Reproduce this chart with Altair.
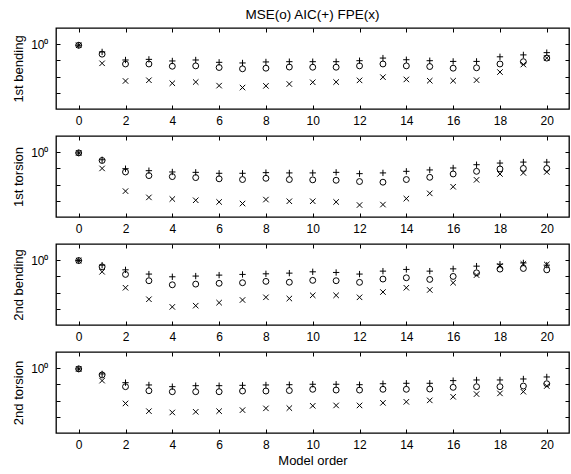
import altair as alt
import pandas as pd

# Model orders on the horizontal axis
orders = list(range(21))

panel_names = ["1st bending", "1st torsion", "2nd bending", "2nd torsion"]

# Normalised criteria per mode: MSE (o), AIC (+), FPE (x)
mse_1b = [0.985, 0.868, 0.755, 0.755, 0.731, 0.735, 0.718, 0.705, 0.711, 0.723, 0.721,
          0.721, 0.735, 0.755, 0.735, 0.728, 0.711, 0.715, 0.755, 0.780, 0.821]
aic_1b = [0.985, 0.896, 0.799, 0.806, 0.788, 0.799, 0.773, 0.766, 0.777, 0.780, 0.780,
          0.780, 0.791, 0.821, 0.802, 0.791, 0.783, 0.783, 0.836, 0.859, 0.887]
fpe_1b = [0.985, 0.762, 0.593, 0.599, 0.574, 0.584, 0.555, 0.540, 0.553, 0.568, 0.582,
          0.584, 0.598, 0.626, 0.606, 0.595, 0.595, 0.600, 0.673, 0.749, 0.821]

mse_1t = [0.990, 0.889, 0.755, 0.717, 0.707, 0.697, 0.685, 0.678, 0.690, 0.678, 0.675,
          0.671, 0.659, 0.653, 0.678, 0.700, 0.734, 0.762, 0.788, 0.794, 0.794]
aic_1t = [0.990, 0.898, 0.791, 0.769, 0.755, 0.751, 0.741, 0.741, 0.748, 0.745, 0.745,
          0.751, 0.737, 0.745, 0.762, 0.777, 0.799, 0.837, 0.857, 0.869, 0.869]
fpe_1t = [0.990, 0.794, 0.575, 0.526, 0.514, 0.505, 0.493, 0.482, 0.510, 0.498, 0.498,
          0.493, 0.472, 0.475, 0.517, 0.557, 0.612, 0.675, 0.734, 0.745, 0.755]

mse_2b = [0.995, 0.910, 0.817, 0.747, 0.705, 0.712, 0.720, 0.726, 0.740, 0.731, 0.751,
          0.747, 0.730, 0.765, 0.779, 0.761, 0.794, 0.836, 0.881, 0.889, 0.872]
aic_2b = [0.995, 0.932, 0.872, 0.821, 0.790, 0.798, 0.809, 0.817, 0.824, 0.832, 0.848,
          0.840, 0.821, 0.856, 0.877, 0.856, 0.884, 0.919, 0.945, 0.962, 0.932]
fpe_2b = [0.995, 0.848, 0.676, 0.574, 0.515, 0.524, 0.547, 0.568, 0.590, 0.580, 0.607,
          0.607, 0.590, 0.636, 0.676, 0.655, 0.726, 0.809, 0.919, 0.949, 0.941]

mse_2t = [0.990, 0.909, 0.769, 0.726, 0.716, 0.716, 0.716, 0.723, 0.723, 0.728, 0.741,
          0.733, 0.733, 0.741, 0.741, 0.744, 0.762, 0.769, 0.769, 0.776, 0.802]
aic_2t = [0.990, 0.922, 0.814, 0.788, 0.769, 0.780, 0.780, 0.784, 0.788, 0.791, 0.796,
          0.796, 0.791, 0.802, 0.807, 0.807, 0.838, 0.846, 0.846, 0.858, 0.883]
fpe_2t = [0.990, 0.838, 0.606, 0.543, 0.533, 0.538, 0.543, 0.551, 0.565, 0.567, 0.586,
          0.589, 0.589, 0.611, 0.620, 0.633, 0.666, 0.692, 0.699, 0.716, 0.776]

x_ticks = list(range(0, 21, 2))
y_ticks = [1.0, 10 ** -0.1, 10 ** -0.2, 10 ** -0.3]

FONT = "Liberation Sans"
PLUS = "M-1,0H1M0,-1V1"
CROSS = "M-1,-1L1,1M-1,1L1,-1"

x_scale = alt.Scale(domain=[-0.97, 20.95], nice=False, zero=False)
y_scale = alt.Scale(type="log", domain=[10 ** -0.4, 10 ** 0.1], nice=False)

W, H = 513, 81


def make_panel(name, mse, aic, fpe, first, last):
    x_bottom = alt.Axis(orient="bottom", values=x_ticks, tickSize=4, offset=-4,
                        domain=False, grid=False, labelPadding=6, titlePadding=4)
    x_top = alt.Axis(orient="top", values=x_ticks, tickSize=4, offset=-4,
                     domain=False, grid=False, labels=False)
    y_left = alt.Axis(orient="left", values=y_ticks, tickSize=4, offset=-4,
                      domain=False, grid=False, labelPadding=8, titlePadding=5,
                      labelExpr="datum.value == 1 ? '10⁰' : ''")
    y_right = alt.Axis(orient="right", values=y_ticks, tickSize=4, offset=-4,
                       domain=False, grid=False, labels=False)

    mse_df = pd.DataFrame({"order": orders, "value": mse})
    aic_df = pd.DataFrame({"order": orders, "value": aic})
    fpe_df = pd.DataFrame({"order": orders, "value": fpe})

    circles = alt.Chart(mse_df).mark_point(
        shape="circle", filled=False, size=35, color="black", strokeWidth=1, opacity=1
    ).encode(
        x=alt.X("order:Q", scale=x_scale, axis=x_bottom,
                title="Model order" if last else None),
        y=alt.Y("value:Q", scale=y_scale, axis=y_left, title=name),
    )
    pluses = alt.Chart(aic_df).mark_point(
        shape=PLUS, filled=False, size=40, color="black", strokeWidth=1, opacity=1
    ).encode(
        x=alt.X("order:Q", scale=x_scale, axis=x_top, title=None),
        y=alt.Y("value:Q", scale=y_scale, axis=y_right, title=None),
    )
    crosses = alt.Chart(fpe_df).mark_point(
        shape=CROSS, filled=False, size=30, color="black", strokeWidth=1, opacity=1
    ).encode(
        x=alt.X("order:Q", scale=x_scale, axis=None),
        y=alt.Y("value:Q", scale=y_scale, axis=None),
    )
    layer = alt.layer(circles, pluses, crosses)
    if first:
        layer = layer.properties(
            width=W, height=H,
            title=alt.TitleParams("MSE(o) AIC(+) FPE(x)", font=FONT, fontSize=13.5,
                                  fontWeight="normal", color="black",
                                  anchor="middle", frame="group", offset=6),
        )
    else:
        layer = layer.properties(width=W, height=H)
    return layer


panels = [
    make_panel(panel_names[0], mse_1b, aic_1b, fpe_1b, True, False),
    make_panel(panel_names[1], mse_1t, aic_1t, fpe_1t, False, False),
    make_panel(panel_names[2], mse_2b, aic_2b, fpe_2b, False, False),
    make_panel(panel_names[3], mse_2t, aic_2t, fpe_2t, False, True),
]

chart = alt.vconcat(*panels, spacing=27, bounds="flush").properties(
    padding={"left": 12, "top": 7, "right": 0, "bottom": 0},
    background="white",
).configure_view(
    stroke="black", strokeWidth=1.3
).configure_axis(
    labelFont=FONT, labelFontSize=12, labelColor="black",
    titleFont=FONT, titleFontSize=13, titleFontWeight="normal", titleColor="black",
    tickColor="black", tickWidth=1,
)

chart.save("out.html", embed_options={"renderer": "svg", "actions": False})
